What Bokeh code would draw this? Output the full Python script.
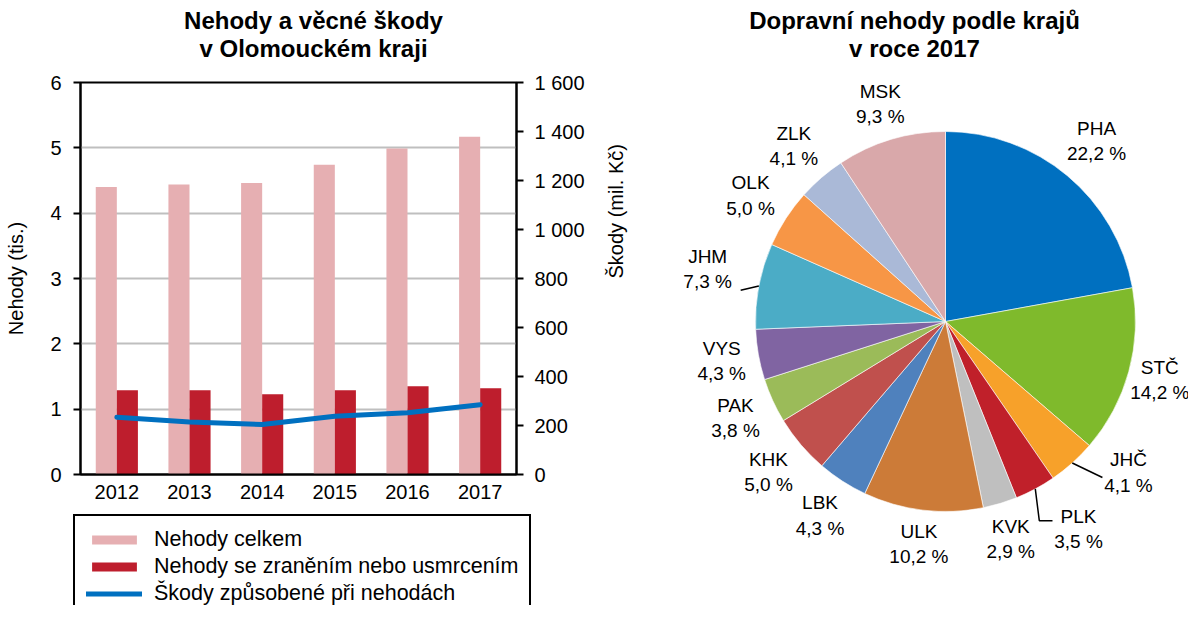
import math
import numpy as np
from bokeh.plotting import figure
from bokeh.models import (ColumnDataSource, Range1d, LinearAxis, FixedTicker, FactorRange,
                          Legend, LegendItem, CustomJSTickFormatter)
from bokeh.transform import dodge
from bokeh.layouts import row, column
from bokeh.embed import file_html
from bokeh.resources import INLINE
from bokeh.core.properties import value

# ---------------- data ----------------
years = ["2012", "2013", "2014", "2015", "2016", "2017"]
nehody_celkem = [4.40, 4.44, 4.46, 4.74, 4.99, 5.17]      # tis.
nehody_zraneni = [1.29, 1.29, 1.23, 1.29, 1.35, 1.32]     # tis.
skody = [234, 214, 204, 238, 252, 285]                     # mil. Kč

left_ticks = [0, 1, 2, 3, 4, 5, 6]
right_ticks = [0, 200, 400, 600, 800, 1000, 1200, 1400, 1600]

left_title = ["Nehody a věcné škody", "v Olomouckém kraji"]
legend_labels = ["Nehody celkem", "Nehody se zraněním nebo usmrcením",
                 "Škody způsobené při nehodách"]

pie_title = ["Dopravní nehody podle krajů", "v roce 2017"]
regions = ["PHA", "STČ", "JHČ", "PLK", "KVK", "ULK", "LBK", "KHK",
           "PAK", "VYS", "JHM", "OLK", "ZLK", "MSK"]
shares = [22.2, 14.2, 4.1, 3.5, 2.9, 10.2, 4.3, 5.0, 3.8, 4.3, 7.3, 5.0, 4.1, 9.3]
region_colors = ["#0070C0", "#7FBA2C", "#F7A12A", "#C0202A", "#BFBFBF", "#CC7B38",
                 "#4F81BD", "#C0504D", "#9BBB59", "#8064A2", "#4BACC6", "#F79646",
                 "#AAB9D7", "#D9A8AA"]

FONT = "Liberation Sans"
PINK = "#E6AFB2"
RED = "#BE1E2D"
BLUE = "#0070C0"
TOTAL_W, TOTAL_H = 1188, 605
LEFT_W = 640
TITLE_H = 66
LEG_H = 95
CHART_H = TOTAL_H - TITLE_H - LEG_H
FRAME_TOP, FRAME_BOTTOM, FRAME_LEFT, FRAME_RIGHT = 82, 474, 80, 522


def bare(fig):
    fig.grid.visible = False
    fig.outline_line_color = None
    return fig


def title_text(fig, lines, cx, top_y, fig_h):
    # two centred bold lines, first line centre at top_y, second 28 px lower
    fig.text(x=[cx, cx], y=[fig_h - top_y, fig_h - top_y - 28], text=lines,
             text_align="center", text_baseline="middle", text_font=value(FONT),
             text_font_size="24px", text_font_style="bold", text_color="black")


# ---------------- left title strip ----------------
tf = bare(figure(width=LEFT_W, height=TITLE_H, x_range=Range1d(0, LEFT_W),
                 y_range=Range1d(0, TITLE_H), output_backend="svg", toolbar_location=None,
                 x_axis_location=None, y_axis_location=None, min_border=0, frame_align=False))
title_text(tf, left_title, 313, 20, TITLE_H)

# ---------------- left chart ----------------
p = figure(width=LEFT_W, height=CHART_H, x_range=FactorRange(*years, range_padding=0),
           y_range=Range1d(0, 6), output_backend="svg", toolbar_location=None,
           min_border_left=FRAME_LEFT, min_border_right=LEFT_W - FRAME_RIGHT,
           min_border_top=FRAME_TOP - TITLE_H,
           min_border_bottom=TITLE_H + CHART_H - FRAME_BOTTOM, frame_align=False)
p.extra_y_ranges = {"skody": Range1d(0, 1600)}

src = ColumnDataSource(dict(year=years, celkem=nehody_celkem, zraneni=nehody_zraneni, skody=skody))
r1 = p.vbar(x=dodge("year", -0.145, range=p.x_range), top="celkem", width=0.29,
            source=src, fill_color=PINK, line_color=None)
r2 = p.vbar(x=dodge("year", 0.145, range=p.x_range), top="zraneni", width=0.29,
            source=src, fill_color=RED, line_color=None)
r3 = p.line(x="year", y="skody", y_range_name="skody", source=src, line_color=BLUE,
            line_width=5, line_join="round", line_cap="round")

p.xgrid.visible = False
p.ygrid.ticker = FixedTicker(ticks=left_ticks[1:-1])
p.ygrid.grid_line_color = "#BFBFBF"
p.ygrid.grid_line_width = 2
p.outline_line_color = "black"
p.outline_line_width = 2
p.outline_line_alpha = 1
p.background_fill_color = "white"

p.yaxis.ticker = FixedTicker(ticks=left_ticks)
p.yaxis.axis_label = "Nehody (tis.)"

ax_r = LinearAxis(y_range_name="skody", axis_label="Škody (mil. Kč)",
                  ticker=FixedTicker(ticks=right_ticks))
ax_r.formatter = CustomJSTickFormatter(
    code=r"return tick.toString().replace(/\B(?=(\d{3})+(?!\d))/g, ' ');")
try:
    ax_r.axis_label_orientation = math.pi / 2
except Exception:
    pass
p.add_layout(ax_r, "right")

for ax in p.yaxis:
    ax.axis_line_color = "black"
    ax.axis_line_width = 2
    ax.major_tick_line_color = "black"
    ax.major_tick_line_width = 2
    ax.major_tick_out = 7
    ax.major_tick_in = 0
    ax.minor_tick_line_color = None
    ax.major_label_text_font = FONT
    ax.major_label_text_font_size = "20px"
    ax.major_label_text_color = "black"
    ax.major_label_standoff = 12
    ax.axis_label_text_font = FONT
    ax.axis_label_text_font_size = "20px"
    ax.axis_label_text_font_style = "normal"
    ax.axis_label_text_color = "black"
    ax.axis_label_standoff = 20
ax_r.major_label_standoff = 11
ax_r.axis_label_standoff = 28

xa = p.xaxis[0]
xa.axis_line_color = "black"
xa.axis_line_width = 2
xa.major_tick_line_color = None
xa.major_tick_out = 0
xa.major_tick_in = 0
xa.major_label_text_font = FONT
xa.major_label_text_font_size = "20px"
xa.major_label_text_color = "black"
xa.major_label_standoff = 10

# ---------------- legend strip below the left chart ----------------
lf = bare(figure(width=LEFT_W, height=LEG_H, x_range=Range1d(0, 1), y_range=Range1d(0, 1),
                 output_backend="svg", toolbar_location=None, x_axis_location=None,
                 y_axis_location=None, min_border=0, frame_align=False))
# legend swatches only (drawn outside the visible range)
k1 = lf.vbar(x=[5], top=[6], bottom=[5], width=0.1, fill_color=PINK, line_color=None)
k2 = lf.vbar(x=[5], top=[6], bottom=[5], width=0.1, fill_color=RED, line_color=None)
k3 = lf.line(x=[5, 6], y=[5, 5], line_color=BLUE, line_width=5, line_cap="round")

legend = Legend(items=[LegendItem(label=legend_labels[0], renderers=[k1]),
                       LegendItem(label=legend_labels[1], renderers=[k2]),
                       LegendItem(label=legend_labels[2], renderers=[k3])],
                location=(73, -14))
legend.label_text_font = FONT
legend.label_text_font_size = "21.5px"
legend.label_text_color = "black"
legend.glyph_width = 56
legend.glyph_height = 11
legend.label_height = 25
legend.label_standoff = 12
legend.spacing = 2
legend.padding = 11
legend.margin = 0
legend.border_line_color = "black"
legend.border_line_alpha = 1
legend.border_line_width = 2
legend.background_fill_alpha = 1
lf.add_layout(legend, "center")

# ---------------- pie chart ----------------
W2 = TOTAL_W - LEFT_W
q = bare(figure(width=W2, height=TOTAL_H, x_range=Range1d(0, W2), y_range=Range1d(0, TOTAL_H),
                output_backend="svg", toolbar_location=None, x_axis_location=None,
                y_axis_location=None, min_border=0, frame_align=False))
title_text(q, pie_title, 914 - LEFT_W, 20, TOTAL_H)

CX, CY, R = 945 - LEFT_W, TOTAL_H - 321, 190
total = float(sum(shares))
cum = np.concatenate([[0.0], np.cumsum(shares)]) / total
starts = math.pi / 2 - 2 * math.pi * cum[:-1]
ends = math.pi / 2 - 2 * math.pi * cum[1:]
q.wedge(x=CX, y=CY, radius=R, start_angle=starts, end_angle=ends, direction="clock",
        fill_color=region_colors, line_color="white", line_width=0.6)

# labels
label_txt = [f"{n}\n{v:.1f}".replace(".", ",") + " %" for n, v in zip(regions, shares)]
moved = {"JHČ": (5, -8.6), "PLK": (16, -4.5), "JHM": (16, 1.6), "STČ": (-12, 0)}
leader_end = {"JHM": [(33, -21)], "JHČ": [(-26, -5)], "PLK": [None, (-26, 8)]}
lx, ly, lxs, lys = [], [], [], []
GAP = 6
for i, (n, v) in enumerate(zip(regions, shares)):
    th = 2 * math.pi * (cum[i] + cum[i + 1]) / 2
    s, c = math.sin(th), math.cos(th)
    pct = f"{v:.1f} %"
    w = max(11 * len(pct), 13 * len(n))
    h = 48
    d = R + GAP + abs(s) * w / 2 + abs(c) * h / 2
    th2 = th
    if n in moved:
        d += moved[n][0]
        th2 = th + math.radians(moved[n][1])
    x = CX + d * math.sin(th2)
    y = CY + d * math.cos(th2)
    lx.append(x)
    ly.append(y)
    if n in leader_end:
        ex, ey = CX + R * s, CY + R * c
        pts_x, pts_y = [ex], [ey]
        offs = leader_end[n]
        fx, fy = x + offs[-1][0], y + offs[-1][1]
        if offs[0] is None:
            pts_x.append(ex + 4)
            pts_y.append(fy)
        pts_x.append(fx)
        pts_y.append(fy)
        lxs.append(pts_x)
        lys.append(pts_y)

q.multi_line(xs=lxs, ys=lys, line_color="black", line_width=1.5)
q.text(x=lx, y=ly, text=label_txt, text_align="center", text_baseline="middle",
       text_font=value(FONT), text_font_size="19px", text_color="black",
       text_line_height=1.2)

layout = row(column(tf, p, lf), q)
open("out.html", "w").write(file_html(layout, INLINE))
